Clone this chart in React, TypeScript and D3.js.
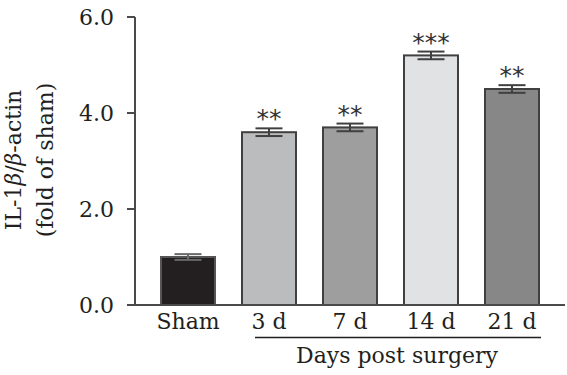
import React from "react";
import * as d3 from "d3";

const categories = ["Sham", "3 d", "7 d", "14 d", "21 d"];
const values = [1.0, 3.6, 3.7, 5.2, 4.5];
const errors = [0.06, 0.08, 0.08, 0.08, 0.08];
const stars = ["", "**", "**", "***", "**"];
const fills = ["#231f20", "#bbbcbe", "#9e9e9e", "#e1e2e3", "#878787"];
const yTicks = [0, 2, 4, 6];

const W = 567;
const H = 375;
const FONT = "'DejaVu Serif', 'Liberation Serif', serif";
const FS = 22;

export default function App() {
  const y = d3.scaleLinear().domain([0, 6]).range([305, 17]);
  const x = d3
    .scaleBand<string>()
    .domain(categories)
    .range([147.5, 552.5])
    .paddingInner(1 / 3)
    .paddingOuter(1 / 6);
  const bw = x.bandwidth();
  const axisColor = "#4a4a4a";
  const textColor = "#231f20";

  return (
    <svg
      width={W}
      height={H}
      style={{ position: "absolute", left: 0, top: 0, background: "#fff" }}
      fontFamily={FONT}
    >
      {/* bars */}
      {categories.map((c, i) => {
        const x0 = x(c)!;
        const top = y(values[i]);
        const cx = x0 + bw / 2;
        const eTop = y(values[i] + errors[i]);
        const eBot = y(values[i] - errors[i]);
        const ec = i === 0 ? "#6a6a6a" : "#404040";
        return (
          <g key={c}>
            <rect
              x={x0}
              y={top}
              width={bw}
              height={y(0) - top}
              fill={fills[i]}
              stroke={i === 0 ? "#555" : "#404040"}
              strokeWidth={2}
            />
            <line x1={cx} x2={cx} y1={eTop} y2={eBot} stroke={ec} strokeWidth={2} />
            <line x1={cx - 13.5} x2={cx + 13.5} y1={eTop} y2={eTop} stroke={ec} strokeWidth={2} />
            <line x1={cx - 13.5} x2={cx + 13.5} y1={eBot} y2={eBot} stroke={ec} strokeWidth={2} />
            {stars[i] && (
              <text
                x={cx}
                y={eTop - 1}
                textAnchor="middle"
                fontSize={25}
                fill="#333"
                fontFamily="'DejaVu Sans', sans-serif"
              >
                {stars[i]}
              </text>
            )}
          </g>
        );
      })}

      {/* axes */}
      <line x1={135} x2={135} y1={y(6)} y2={y(0)} stroke={axisColor} strokeWidth={2} />
      <line x1={134} x2={565} y1={y(0)} y2={y(0)} stroke={axisColor} strokeWidth={2} />
      {yTicks.map((t) => (
        <g key={t}>
          <line x1={127} x2={135} y1={y(t)} y2={y(t)} stroke={axisColor} strokeWidth={2} />
          <text
            x={114}
            y={y(t)}
            dy="0.36em"
            textAnchor="end"
            fontSize={FS}
            fill={textColor}
          >
            {t.toFixed(1)}
          </text>
        </g>
      ))}

      {/* x labels */}
      {categories.map((c) => (
        <text
          key={c}
          x={x(c)! + bw / 2}
          y={329}
          textAnchor="middle"
          fontSize={FS}
          fill={textColor}
        >
          {c}
        </text>
      ))}
      <line x1={255} x2={541} y1={337.5} y2={337.5} stroke={textColor} strokeWidth={1.5} />
      <text x={397} y={363} textAnchor="middle" fontSize={FS} fill={textColor}>
        Days post surgery
      </text>

      {/* y label */}
      <g transform="translate(21,160) rotate(-90)">
        <text textAnchor="middle" fontSize={FS} fill={textColor}>
          IL-1<tspan fontStyle="italic">β</tspan>/<tspan fontStyle="italic">β</tspan>-actin
        </text>
      </g>
      <g transform="translate(53,160) rotate(-90)">
        <text textAnchor="middle" fontSize={FS} fill={textColor}>
          (fold of sham)
        </text>
      </g>
    </svg>
  );
}
